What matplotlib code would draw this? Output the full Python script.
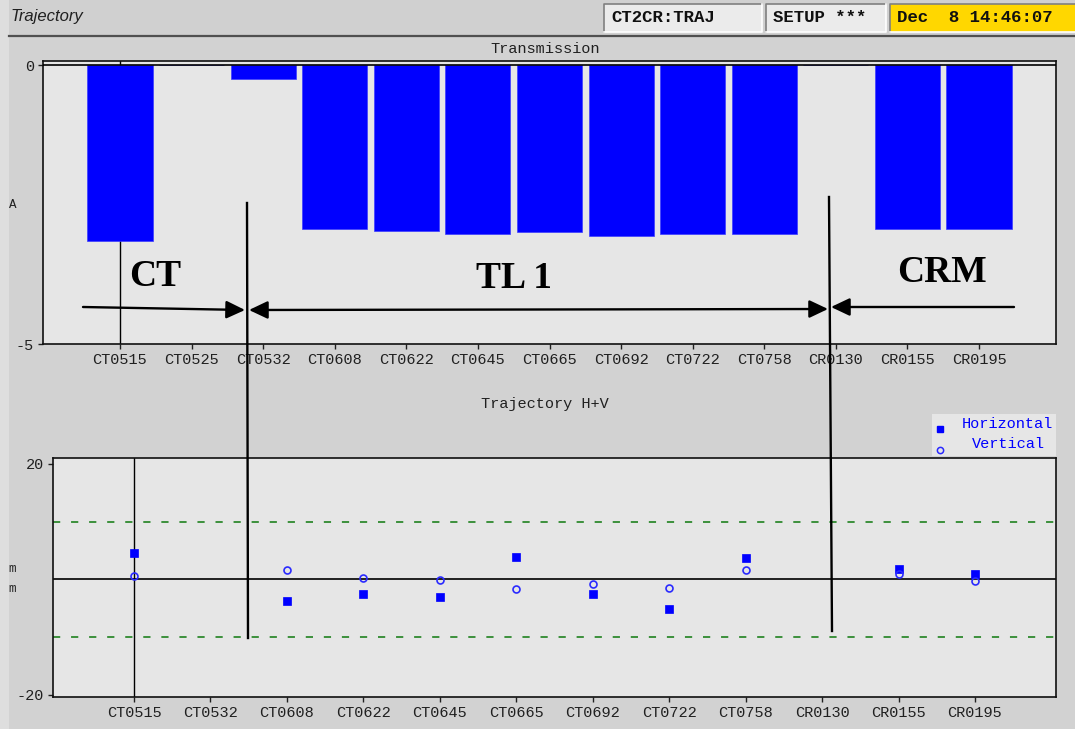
import numpy as np
import matplotlib
matplotlib.use("Agg")
import matplotlib.pyplot as plt
from matplotlib.patches import Rectangle, FancyArrowPatch
from matplotlib.lines import Line2D

# ---- data -------------------------------------------------------------
transmission_monitors = ["CT0515", "CT0525", "CT0532", "CT0608", "CT0622", "CT0645",
                         "CT0665", "CT0692", "CT0722", "CT0758", "CR0130", "CR0155",
                         "CR0195"]
transmission_values = [-3.15, 0.0, -0.25, -2.93, -2.97, -3.02, -3.0, -3.07, -3.02,
                       -3.02, 0.0, -2.94, -2.94]

trajectory_monitors = ["CT0515", "CT0532", "CT0608", "CT0622", "CT0645", "CT0665",
                       "CT0692", "CT0722", "CT0758", "CR0130", "CR0155", "CR0195"]
horizontal_mm = [4.5, np.nan, -3.7, -2.6, -3.1, 3.8, -2.6, -5.05, 3.7, np.nan, 1.8, 0.95]
vertical_mm = [0.5, np.nan, 1.6, 0.3, -0.1, -1.7, -0.8, -1.5, 1.6, np.nan, 1.0, -0.25]

tolerance_mm = 10

# ---- style ------------------------------------------------------------
W, H = 1075, 729
MONO = "Liberation Mono"
BG = "#d2d2d2"
PANEL = "#e6e6e6"
BLUE = "#0000ff"

fig = plt.figure(figsize=(W / 100, H / 100), dpi=100, facecolor=BG)


def fx(px):
    return px / W


def fy(py):
    return 1 - py / H


# window decoration: lighter left strip, header bar and status boxes
fig.patches.append(Rectangle((0, 0), fx(9), 1, transform=fig.transFigure,
                             facecolor="#dedede", edgecolor="none", zorder=0))
fig.patches.append(Rectangle((fx(9), fy(35)), 1, 35 / H, transform=fig.transFigure,
                             facecolor="#d0d0d0", edgecolor="none", zorder=0))
fig.add_artist(Line2D([fx(9), 1], [fy(36), fy(36)], transform=fig.transFigure,
                      color="#505050", lw=1.6))
fig.text(fx(10), fy(16), "Trajectory", fontsize=12, style="italic",
         family=["Liberation Sans Narrow", "Liberation Sans"], color="#202020",
         ha="left", va="center")

boxes = [(604, 762, "CT2CR:TRAJ", "#ebebeb"),
         (766, 886, "SETUP ***", "#ebebeb"),
         (890, 1080, "Dec  8 14:46:07", "#ffd700")]
for x0, x1, txt, col in boxes:
    fig.patches.append(Rectangle((fx(x0), fy(32)), fx(x1 - x0), 28 / H,
                                 transform=fig.transFigure, facecolor=col,
                                 edgecolor="none", zorder=1))
    fig.add_artist(Line2D([fx(x0), fx(x0), fx(x1)], [fy(32), fy(4), fy(4)],
                          transform=fig.transFigure, color="#808080", lw=1.2))
    fig.add_artist(Line2D([fx(x0), fx(x1), fx(x1)], [fy(32), fy(32), fy(4)],
                          transform=fig.transFigure, color="#ffffff", lw=1.2))
    fig.text(fx(x0 + 7), fy(18), txt, fontsize=12.5, family=MONO, weight="bold",
             color="#101010", ha="left", va="center")

# ---- transmission bar chart -------------------------------------------
ax1 = fig.add_axes([fx(43), fy(344), fx(1056 - 43), (344 - 61) / H])
ax1.set_facecolor(PANEL)
x1 = np.arange(len(transmission_monitors))
ax1.bar(x1, transmission_values, width=0.91, color=BLUE, edgecolor="#3c3cff",
        linewidth=0.5, zorder=2)
ax1.axhline(0, color="black", lw=1.2, zorder=3)
ax1.axvline(x1[0], color="black", lw=1.0, zorder=1)
ax1.set_xlim(-1.075, len(x1) - 1 + 1.075)
ax1.set_ylim(-5, 0.072)
ax1.set_yticks([-5, 0])
ax1.set_yticklabels(["-5", "0"])
ax1.set_xticks(x1)
ax1.set_xticklabels(transmission_monitors)

# ---- trajectory scatter -----------------------------------------------
ax2 = fig.add_axes([fx(53), fy(697), fx(1056 - 53), (697 - 458) / H])
ax2.set_facecolor(PANEL)
x2 = np.arange(len(trajectory_monitors))
ax2.axhline(0, color="black", lw=1.2, zorder=1)
ax2.axvline(x2[0], color="black", lw=1.0, zorder=1)
for lvl in (tolerance_mm, -tolerance_mm):
    ax2.axhline(lvl, color="#2f8a2f", lw=1.3, ls=(0, (4, 6)), zorder=1)
ax2.plot(x2, horizontal_mm, ls="none", marker="s", ms=5.5, mfc=BLUE, mec=BLUE,
         mew=0.5, zorder=3)
ax2.plot(x2, vertical_mm, ls="none", marker="o", ms=5, mfc="none", mec="#2a2aff",
         mew=1.2, zorder=3)
ax2.set_xlim(-1.06, len(x2) - 1 + 1.06)
ax2.set_ylim(-20.35, 21.0)
ax2.set_yticks([-20, 20])
ax2.set_yticklabels(["-20", "20"])
ax2.set_xticks(x2)
ax2.set_xticklabels(trajectory_monitors)

for ax in (ax1, ax2):
    for s in ax.spines.values():
        s.set_color("#101010")
        s.set_linewidth(1.2)
    ax.tick_params(direction="out", length=3.5, width=1, colors="#202020",
                   labelsize=11, pad=3)
    for lab in ax.get_xticklabels() + ax.get_yticklabels():
        lab.set_family(MONO)

# panel titles and clipped unit labels
fig.text(fx(545), fy(49), "Transmission", family=MONO, fontsize=11,
         color="#202020", ha="center", va="center")
fig.text(fx(545), fy(404), "Trajectory H+V", family=MONO, fontsize=11,
         color="#202020", ha="center", va="center")
fig.text(fx(9), fy(205), "A", family=MONO, fontsize=9, color="#202020",
         ha="left", va="center")
fig.text(fx(8), fy(569), "m", family=MONO, fontsize=9, color="#202020",
         ha="left", va="center")
fig.text(fx(8), fy(589), "m", family=MONO, fontsize=9, color="#202020",
         ha="left", va="center")

# legend for the trajectory panel
fig.patches.append(Rectangle((fx(932), fy(456)), fx(124), 42 / H,
                             transform=fig.transFigure, facecolor=PANEL,
                             edgecolor="none", zorder=1))
fig.add_artist(Line2D([fx(940)], [fy(429)], transform=fig.transFigure, ls="none",
                      marker="s", ms=5, mfc=BLUE, mec=BLUE))
fig.add_artist(Line2D([fx(940)], [fy(450)], transform=fig.transFigure, ls="none",
                      marker="o", ms=4.5, mfc="none", mec="#2a2aff", mew=1.1))
fig.text(fx(1007), fy(424), "Horizontal", family=MONO, fontsize=11, color=BLUE,
         ha="center", va="center")
fig.text(fx(1008), fy(444), "Vertical", family=MONO, fontsize=11, color=BLUE,
         ha="center", va="center")

# ---- section markers (CT / TL 1 / CRM) --------------------------------
for (xa, ya), (xb, yb) in [((247, 203), (248, 638)), ((829, 197), (832, 631))]:
    fig.add_artist(Line2D([fx(xa), fx(xb)], [fy(ya), fy(yb)],
                          transform=fig.transFigure, color="black", lw=1.7, zorder=5))


def arrow(p0, p1, style):
    fig.add_artist(FancyArrowPatch((fx(p0[0]), fy(p0[1])), (fx(p1[0]), fy(p1[1])),
                                   transform=fig.transFigure,
                                   arrowstyle=style + ",head_length=0.95,head_width=0.45",
                                   mutation_scale=12, color="black", lw=1.7,
                                   shrinkA=0, shrinkB=0, zorder=5))


arrow((83, 307), (245, 310), "-|>")
arrow((249, 310), (828, 309), "<|-|>")
arrow((1014, 307), (831, 307), "-|>")

for xc, yc, txt in [(155, 276, "CT"), (514, 279, "TL 1"), (942, 273, "CRM")]:
    fig.text(fx(xc), fy(yc), txt, family="Liberation Serif", weight="bold",
             fontsize=27, color="black", ha="center", va="center", zorder=6)

fig.savefig("out.png", dpi=100, facecolor=fig.get_facecolor())
